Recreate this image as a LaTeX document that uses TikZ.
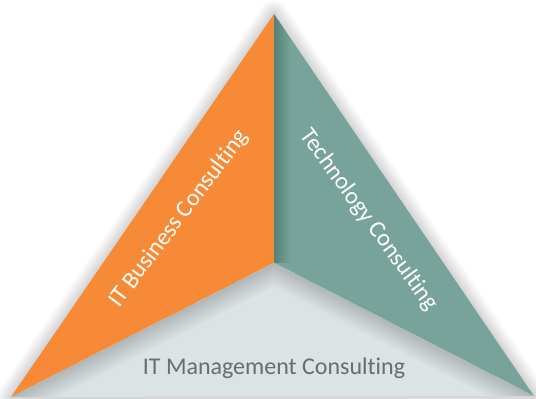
\documentclass[tikz,border=0pt]{standalone}
\usepackage{fontspec}
\setmainfont{Carlito}[Ligatures=NoCommon]
\definecolor{bizorange}{HTML}{F68A36}
\definecolor{techteal}{HTML}{78A39B}
\definecolor{mgmtgrey}{HTML}{DBE3E4}
\definecolor{mgmttext}{HTML}{6C6C6C}
\tikzset{
  lbl/.style={font=\fontsize{24}{28}\selectfont, inner sep=0pt},
  softshadow/.style={draw=black, line join=round, line cap=round}
}
\begin{document}
\begin{tikzpicture}[x=1pt,y=-1pt]
\useasboundingbox (0,0) rectangle (536,399);
\coordinate (A) at (274,14);
\coordinate (C) at (274,263);
\coordinate (L) at (11,397);
\coordinate (R) at (534,396);
% outer soft shadow
\foreach \w in {2,4,...,28} {
  \draw[softshadow, line width=\w pt, opacity=0.012] (A) -- (L) -- (R) -- cycle;
}
% panels
\fill[bizorange] (A) -- (C) -- (L) -- cycle;
\fill[techteal] (A) -- (R) -- (C) -- cycle;
\fill[mgmtgrey] (L) -- (C) -- (R) -- cycle;
% inner shading on the teal panel along the divider
\begin{scope}
  \clip (A) -- (R) -- (C) -- cycle;
  \foreach \w in {2,4,...,34} {
    \draw[line width=\w pt, black, opacity=0.01] (A) -- (C);
  }
\end{scope}
% inner shading on the grey panel along the upper edges
\begin{scope}
  \clip (L) -- (C) -- (R) -- cycle;
  \foreach \w in {2,4,...,44} {
    \draw[line width=\w pt, black, opacity=0.009, line join=round] (L) -- (C) -- (R);
  }
\end{scope}
% labels
\node[lbl, text=white, rotate=53] (biz) at (179,219) {IT Business Consulting};
\node[lbl, text=white, rotate=-54] (tech) at (369,220) {Technology Consulting};
\node[lbl, text=mgmttext] (mgmt) at (274,368) {IT Management Consulting};
\end{tikzpicture}
\end{document}
